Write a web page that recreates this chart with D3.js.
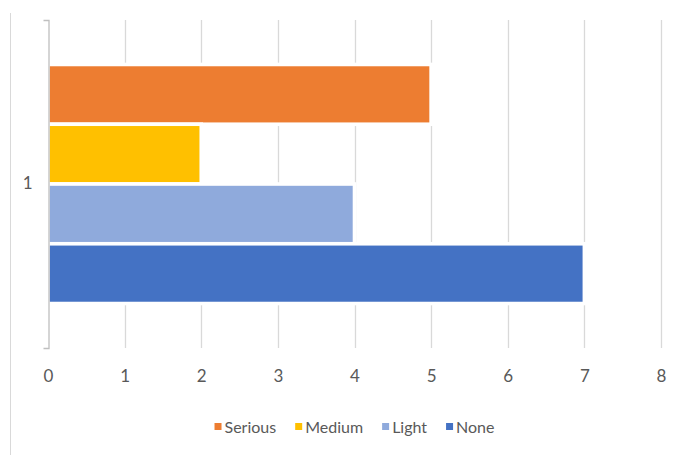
<!DOCTYPE html>
<html>
<head>
<meta charset="utf-8">
<script src="https://cdn.jsdelivr.net/npm/d3@7"></script>
<style>
  body { margin: 0; background: #fff; }
  text { font-family: Lato, "Open Sans", sans-serif; fill: #595959; }
</style>
</head>
<body>
<svg id="chart"></svg>
<script>
// chart data
const categories = ['1'];
const seriesNames = ['Serious', 'Medium', 'Light', 'None'];
const seriesValues = [5, 2, 4, 7];
const seriesColors = ['#ED7D31', '#FFC000', '#8FAADC', '#4472C4'];
const xTicks = [0, 1, 2, 3, 4, 5, 6, 7, 8];

const width = 681;
const height = 455;
const plot = { left: 48, right: 661, top: 20, bottom: 348 };

const svg = d3.select('#chart')
  .attr('width', width)
  .attr('height', height);

// left border of chart frame
svg.append('line')
  .attr('x1', 10.5).attr('x2', 10.5)
  .attr('y1', 13).attr('y2', height)
  .attr('stroke', '#d9d9d9');

const xScale = d3.scaleLinear()
  .domain([0, 8])
  .range([plot.left, plot.right]);

const yScale = d3.scaleBand()
  .domain(categories)
  .range([plot.top, plot.bottom])
  .paddingOuter(0.186);

const ySeries = d3.scaleBand()
  .domain(seriesNames)
  .range([0, yScale.bandwidth()]);

// gridlines
svg.append('g')
  .selectAll('line')
  .data(xTicks.slice(1))
  .enter().append('line')
  .attr('x1', d => Math.round(xScale(d)) + 0.5)
  .attr('x2', d => Math.round(xScale(d)) + 0.5)
  .attr('y1', plot.top)
  .attr('y2', plot.bottom)
  .attr('stroke', '#d9d9d9')
  .attr('stroke-width', 1.3);

// bars
const rows = seriesNames.map((name, i) => ({ name, value: seriesValues[i], color: seriesColors[i] }));

svg.append('g')
  .selectAll('rect')
  .data(rows)
  .enter().append('rect')
  .attr('x', xScale(0))
  .attr('y', d => yScale(categories[0]) + ySeries(d.name))
  .attr('width', d => xScale(d.value) - xScale(0))
  .attr('height', ySeries.bandwidth())
  .attr('fill', d => d.color)
  .attr('stroke', '#fff')
  .attr('stroke-width', 3.6);

// category axis
const yAxis = svg.append('g')
  .attr('transform', `translate(${plot.left + 0.5},0)`)
  .call(d3.axisLeft(yScale).tickSizeInner(0).tickSizeOuter(5).tickPadding(16));
yAxis.select('.domain').attr('stroke', '#bfbfbf').attr('stroke-width', 1.3);
yAxis.selectAll('text').style('font-size', '17px').attr('fill', '#595959');

// value axis labels
const xAxis = svg.append('g')
  .attr('transform', `translate(0,${plot.bottom})`)
  .call(d3.axisBottom(xScale).tickValues(xTicks).tickSize(0).tickPadding(22));
xAxis.select('.domain').remove();
xAxis.selectAll('text').style('font-size', '17px').attr('fill', '#595959');

// legend
const legend = svg.append('g');
const items = legend.selectAll('g')
  .data(rows)
  .enter().append('g');

items.append('rect')
  .attr('width', 7)
  .attr('height', 7)
  .attr('y', -4)
  .attr('fill', d => d.color);

items.append('text')
  .attr('x', 10)
  .attr('dy', '0.35em')
  .style('font-size', '16px')
  .text(d => d.name);

let offset = 0;
items.each(function () {
  const g = d3.select(this);
  g.attr('transform', `translate(${offset},0)`);
  offset += 10 + g.select('text').node().getComputedTextLength() + 19;
});
offset -= 19;
legend.attr('transform', `translate(${(plot.left + plot.right) / 2 - offset / 2},427)`);
</script>
</body>
</html>
